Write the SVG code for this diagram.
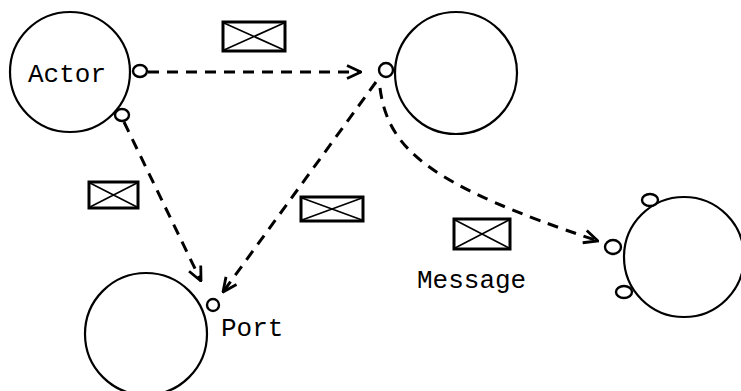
<svg xmlns="http://www.w3.org/2000/svg" width="741" height="391" viewBox="0 0 741 391">
<style>
.node{fill:none;stroke:#000;stroke-width:2.2}
.port{fill:#fff;stroke:#000;stroke-width:2.4}
.conn{fill:none;stroke:#000;stroke-width:3;stroke-dasharray:11 8}
.env rect{fill:#fff;stroke:#000;stroke-width:3}
.env path{fill:none;stroke:#000;stroke-width:1.6}
.lbl{font-family:"Liberation Mono","DejaVu Sans Mono",monospace;font-size:26px;fill:#000}
</style>
<defs>
<marker id="arr" viewBox="0 0 16 16" refX="15" refY="8" markerWidth="16" markerHeight="16" markerUnits="userSpaceOnUse" orient="auto">
<path d="M1,1.5 L15,8 L1,14.5" fill="none" stroke="#000" stroke-width="2.8"/>
</marker>
</defs>
<rect width="741" height="391" fill="#fff"/>
<g id="connectors">
<path class="conn" d="M148,72 L361,72" marker-end="url(#arr)"/>
<path class="conn" d="M124,122 L201,281" marker-end="url(#arr)"/>
<path class="conn" d="M376,82 L223,292" marker-end="url(#arr)"/>
<path class="conn" d="M380,88 C388,150 430,185 598,241" marker-end="url(#arr)"/>
</g>
<g id="actor">
<circle class="node" cx="70" cy="72" r="60"/>
<ellipse class="port" cx="140" cy="71" rx="7" ry="6"/>
<ellipse class="port" cx="122" cy="115" rx="7" ry="6"/>
<text class="lbl" x="28" y="82">Actor</text>
</g>
<g id="node-top">
<circle class="node" cx="456" cy="73" r="61"/>
<ellipse class="port" cx="386" cy="70" rx="7" ry="7"/>
</g>
<g id="node-bottom-left">
<circle class="node" cx="146" cy="334" r="61"/>
<ellipse class="port" cx="213" cy="305" rx="6" ry="6"/>
<text class="lbl" x="221" y="336">Port</text>
</g>
<g id="node-right">
<circle class="node" cx="684" cy="257" r="60"/>
<ellipse class="port" cx="650" cy="200" rx="8" ry="6"/>
<ellipse class="port" cx="613" cy="247" rx="8" ry="7"/>
<ellipse class="port" cx="624" cy="292" rx="8" ry="6"/>
</g>
<g id="msg1" class="env">
<rect x="223" y="22" width="62" height="29"/>
<path d="M224,23 L284,50 M224,50 L284,23"/>
</g>
<g id="msg2" class="env">
<rect x="89" y="182" width="49" height="26"/>
<path d="M90,183 L137,207 M90,207 L137,183"/>
</g>
<g id="msg3" class="env">
<rect x="301" y="197" width="62" height="24"/>
<path d="M302,198 L362,220 M302,220 L362,198"/>
</g>
<g id="msg4" class="env">
<rect x="454" y="219" width="56" height="30"/>
<path d="M455,220 L509,248 M455,248 L509,220"/>
<text class="lbl" x="417" y="288" style="stroke:none">Message</text>
</g>
</svg>
